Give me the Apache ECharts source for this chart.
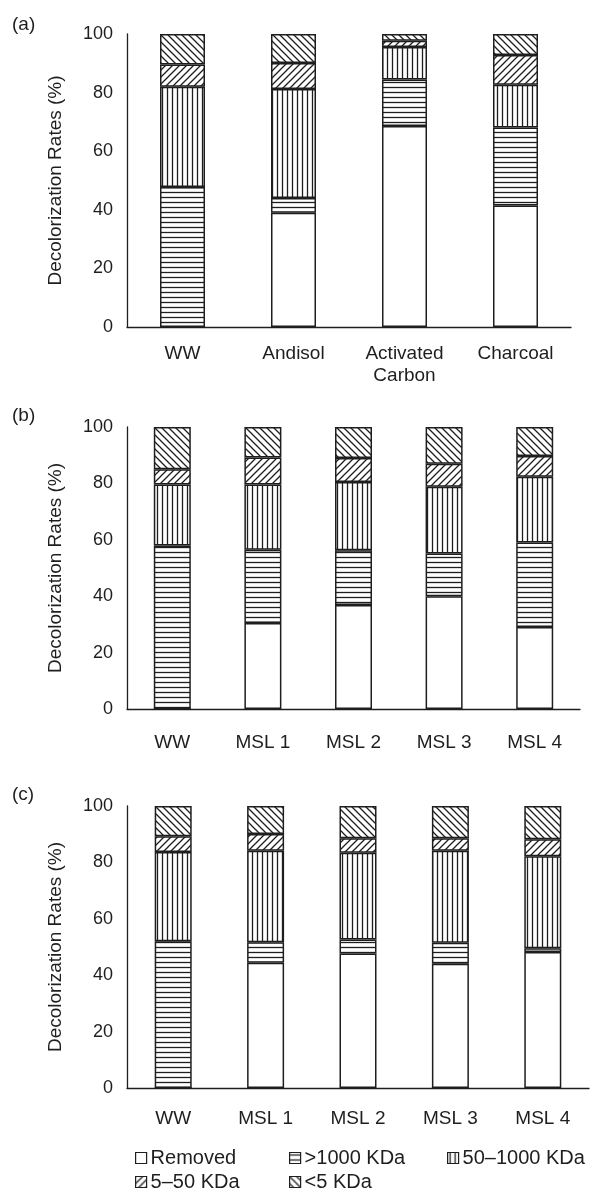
<!DOCTYPE html>
<html>
<head>
<meta charset="utf-8">
<script src="https://cdn.jsdelivr.net/npm/echarts@6/dist/echarts.min.js"></script>
<style>
  html, body { margin: 0; padding: 0; background: #fff; }
  #chart { width: 594px; height: 1189px; }
</style>
</head>
<body>
<div id="chart"></div>
<script>
// categories
const catsA = ["WW", "Andisol", "Activated\nCarbon", "Charcoal"];
const catsB = ["WW", "MSL 1", "MSL 2", "MSL 3", "MSL 4"];
const catsC = ["WW", "MSL 1", "MSL 2", "MSL 3", "MSL 4"];
const yTicks = [0, 20, 40, 60, 80, 100];
const seriesNames = ["Removed", ">1000 KDa", "50\u20131000 KDa", "5\u201350 KDa", "<5 KDa"];

// panel (a) - stacked segments (%)
const removedA = [0, 39.0, 68.6, 41.5];
const over1000A = [47.8, 5.0, 15.9, 26.6];
const mid1000A = [34.2, 37.2, 11.1, 14.6];
const kda5to50A = [7.6, 8.9, 2.1, 10.1];
const under5A = [10.4, 9.9, 2.3, 7.2];

// panel (b)
const removedB = [0, 30.5, 36.9, 40.0, 29.1];
const over1000B = [58.0, 26.0, 19.4, 15.1, 29.9];
const mid1000B = [21.6, 23.1, 24.2, 23.7, 23.4];
const kda5to50B = [5.4, 9.6, 8.5, 8.2, 7.3];
const under5B = [15.0, 10.8, 11.0, 13.0, 10.3];

// panel (c)
const removedC = [0, 44.4, 47.7, 44.1, 48.2];
const over1000C = [52.0, 7.3, 5.0, 7.4, 1.4];
const mid1000C = [31.7, 32.4, 30.7, 32.6, 32.6];
const kda5to50C = [5.6, 6.0, 5.2, 4.5, 6.0];
const under5C = [10.7, 9.9, 11.4, 11.4, 11.8];

const FONT = "'Liberation Sans', Arial, Helvetica, sans-serif";
const INK = "#1e1e1e";

// hatch fills drawn on a tiny canvas and tiled
function hatch(kind) {
  const c = document.createElement("canvas");
  const w = kind === "v" ? 5 : kind === "h" ? 6 : 7;
  const h = kind === "h" ? 5 : kind === "v" ? 6 : 7;
  c.width = w;
  c.height = h;
  const ctx = c.getContext("2d");
  ctx.fillStyle = "#fff";
  ctx.fillRect(0, 0, w, h);
  ctx.strokeStyle = INK;
  ctx.lineWidth = 1.3;
  ctx.beginPath();
  if (kind === "h") {
    ctx.moveTo(0, 2.5);
    ctx.lineTo(w, 2.5);
  } else if (kind === "v") {
    ctx.moveTo(2.5, 0);
    ctx.lineTo(2.5, h);
  } else if (kind === "f") {
    // "/" lines
    ctx.moveTo(-1, w + 1);
    ctx.lineTo(w + 1, -1);
    ctx.moveTo(-1, 1);
    ctx.lineTo(1, -1);
    ctx.moveTo(w - 1, w + 1);
    ctx.lineTo(w + 1, w - 1);
  } else {
    // "\" lines
    ctx.moveTo(-1, -1);
    ctx.lineTo(w + 1, w + 1);
    ctx.moveTo(w - 1, -1);
    ctx.lineTo(w + 1, 1);
    ctx.moveTo(-1, w - 1);
    ctx.lineTo(1, w + 1);
  }
  ctx.stroke();
  return { image: c, repeat: "repeat" };
}

const fills = ["#ffffff", hatch("h"), hatch("v"), hatch("f"), hatch("b")];

const panels = [
  { cats: catsA, data: [removedA, over1000A, mid1000A, kda5to50A, under5A], top: 34, height: 293, width: 444, bar: 45, label: "(a)", labelTop: 15, margin: 16 },
  { cats: catsB, data: [removedB, over1000B, mid1000B, kda5to50B, under5B], top: 427, height: 282, width: 453, bar: 37, label: "(b)", labelTop: 406, margin: 23 },
  { cats: catsC, data: [removedC, over1000C, mid1000C, kda5to50C, under5C], top: 806, height: 282, width: 462, bar: 37, label: "(c)", labelTop: 785, margin: 20 },
];

const axisLine = { lineStyle: { color: INK, width: 1.3 } };
const axisTick = { inside: true, length: 6, lineStyle: { color: INK, width: 1.3 } };

const grid = [], xAxis = [], yAxis = [], series = [], title = [];
panels.forEach((p, i) => {
  grid.push({ left: 127, top: p.top, width: p.width, height: p.height });
  title.push({
    text: p.label, left: 12, top: p.labelTop, padding: 0,
    textStyle: { fontFamily: FONT, fontSize: 19, fontWeight: "normal", color: INK },
  });
  xAxis.push({
    type: "category", gridIndex: i, data: p.cats,
    axisLine, axisTick,
    axisLabel: { color: INK, fontFamily: FONT, fontSize: 19, margin: p.margin, lineHeight: 22, interval: 0 },
  });
  yAxis.push({
    type: "value", gridIndex: i, min: yTicks[0], max: yTicks[yTicks.length - 1], interval: 20,
    name: "Decolorization Rates (%)", nameLocation: "middle", nameGap: 62,
    nameTextStyle: { color: INK, fontFamily: FONT, fontSize: 19 },
    axisLine: { show: true, lineStyle: axisLine.lineStyle }, axisTick,
    splitLine: { show: false },
    axisLabel: { color: INK, fontFamily: FONT, fontSize: 18, margin: 14 },
  });
  p.data.forEach((vals, k) => {
    series.push({
      name: seriesNames[k], type: "bar", stack: "s" + i,
      xAxisIndex: i, yAxisIndex: i, barWidth: p.bar,
      data: vals,
      itemStyle: { color: fills[k], borderColor: INK, borderWidth: 1.5 },
      emphasis: { disabled: true },
    });
  });
});

// legend laid out as two rows: one component per entry
const legendPos = [
  [135, 1148], [289, 1148], [447, 1148],
  [135, 1172], [289, 1172],
];
const legend = seriesNames.map((n, k) => ({
  data: [n], left: legendPos[k][0], top: legendPos[k][1], padding: 0,
  itemWidth: 11, itemHeight: 11, itemGap: 0, icon: "rect",
  itemStyle: { borderColor: INK, borderWidth: 1.2 },
  textStyle: { color: INK, fontFamily: FONT, fontSize: 20, padding: [0, 0, 0, -1] },
  selectedMode: false,
}));

const chart = echarts.init(document.getElementById("chart"));
chart.setOption({
  animation: false,
  backgroundColor: "#fff",
  title, grid, xAxis, yAxis, series, legend,
});
window.addEventListener("resize", () => chart.resize());
</script>
</body>
</html>
